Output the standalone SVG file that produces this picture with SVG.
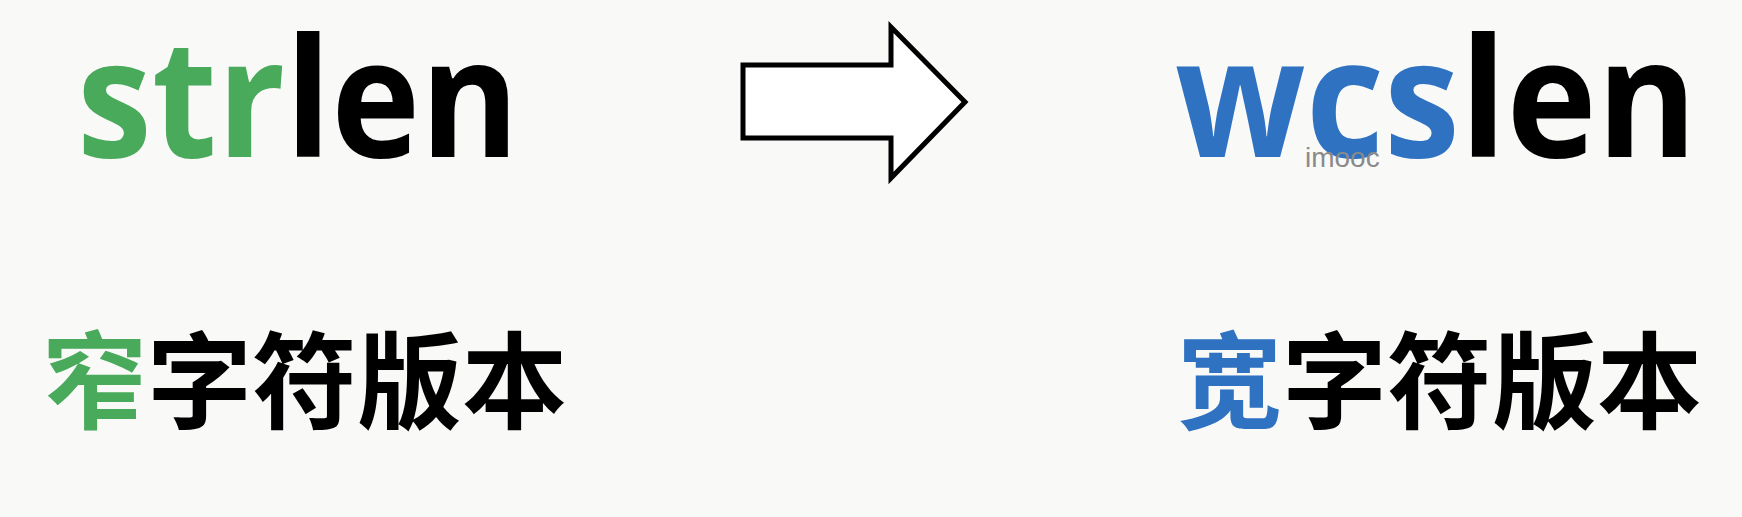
<svg xmlns="http://www.w3.org/2000/svg" width="1742" height="517" viewBox="0 0 1742 517">
  <style>
    .fn { font-family: "Open Sans", "Liberation Sans", sans-serif; font-weight: 700; font-size: 166px; }
    .cjk { font-family: "Noto Sans CJK SC", "Noto Sans", sans-serif; font-weight: 700; font-size: 105px; }
    .green { fill: #4aaa5c; }
    .blue { fill: #2f72c2; }
    .black { fill: #000000; }
    .wm { font-family: "Liberation Sans", Arial, sans-serif; font-size: 28px; fill: #8a8a8a; }
  </style>
  <rect x="0" y="0" width="1742" height="517" fill="#f9f9f8"/>
  <g id="strlen">
    <text class="fn" x="77" y="157" textLength="442" lengthAdjust="spacingAndGlyphs"><tspan class="green">str</tspan><tspan class="black">len</tspan></text>
  </g>
  <g id="wcslen">
    <text class="fn" x="1175" y="157" textLength="522" lengthAdjust="spacingAndGlyphs"><tspan class="blue">wcs</tspan><tspan class="black">len</tspan></text>
    <text class="wm" x="1305" y="167">imooc</text>
  </g>
  <g id="connectors">
    <polygon points="743,65 891,65 891,27 965,102 891,178 891,138 743,138" fill="#ffffff" stroke="#000000" stroke-width="5" stroke-linejoin="miter"/>
  </g>
  <g id="narrow">
    <text class="cjk" x="42" y="420"><tspan class="green">窄</tspan><tspan class="black">字符版本</tspan></text>
  </g>
  <g id="wide">
    <text class="cjk" x="1177" y="420"><tspan class="blue">宽</tspan><tspan class="black">字符版本</tspan></text>
  </g>
</svg>
